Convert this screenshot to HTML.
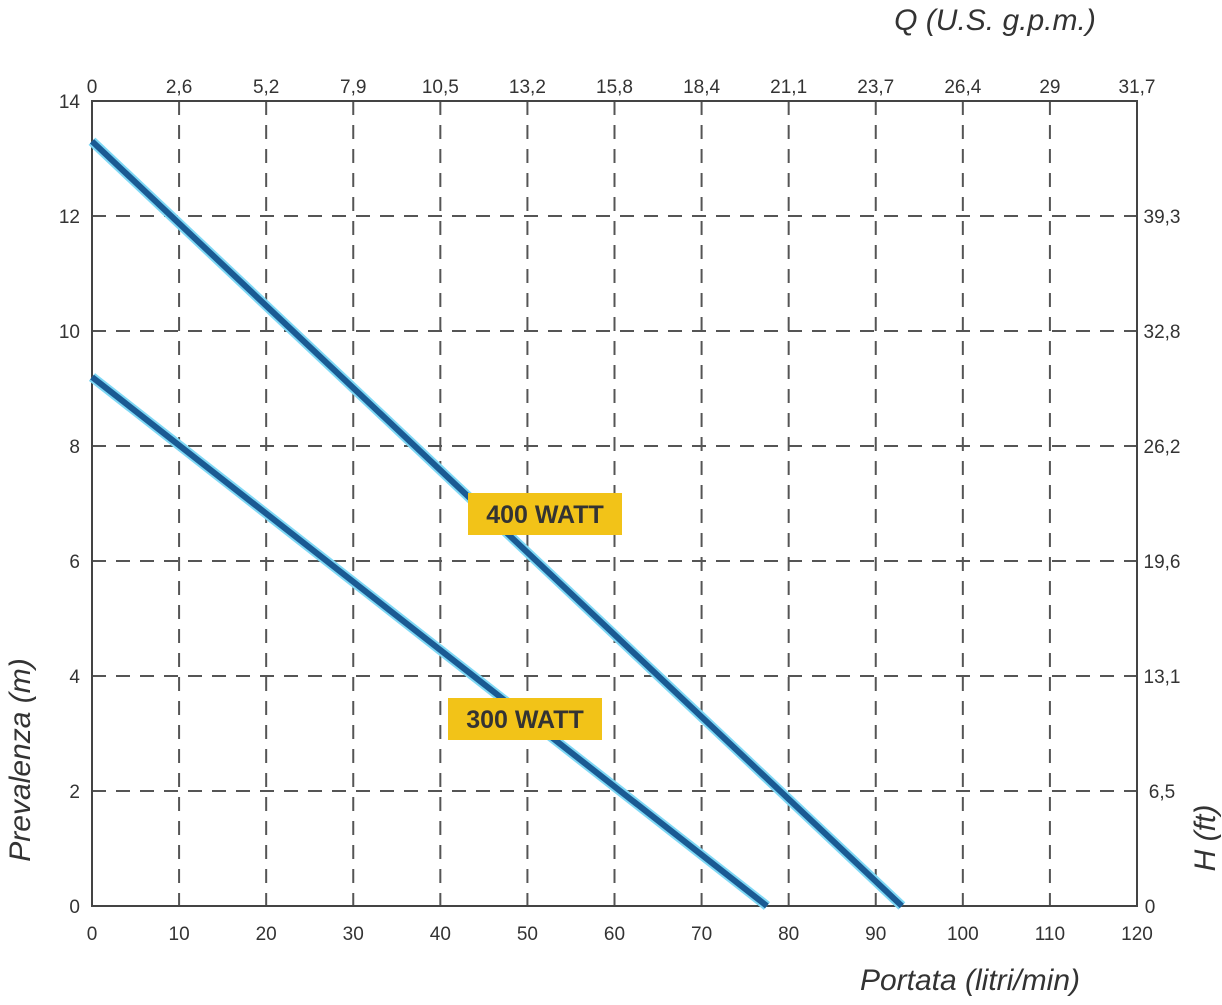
<!DOCTYPE html>
<html><head><meta charset="utf-8"><style>
body{margin:0;background:#fff;}
svg text{font-family:"Liberation Sans",sans-serif;fill:#333;}
</style></head><body>
<svg id="chart" width="1222" height="1000" xmlns="http://www.w3.org/2000/svg"></svg>
<script>
const xTicks=[0,10,20,30,40,50,60,70,80,90,100,110,120];
const yTicks=[0,2,4,6,8,10,12,14];
const gpmLabels=["0","2,6","5,2","7,9","10,5","13,2","15,8","18,4","21,1","23,7","26,4","29","31,7"];
const ftLabels=["0","6,5","13,1","19,6","26,2","32,8","39,3"];
const series400=[[0,13.3],[93,0]];
const series300=[[0,9.2],[77.5,0]];
const L=92,R=1137,T=101,B=906;
const sx=v=>L+(R-L)*v/120, sy=v=>B-(B-T)*v/14;
const svg=document.getElementById('chart');
const NS="http://www.w3.org/2000/svg";
function mk(tag,attrs,parent){const e=document.createElementNS(NS,tag);for(const k in attrs)e.setAttribute(k,attrs[k]);(parent||svg).appendChild(e);return e;}
function txt(s,x,y,size,anchor,extra){const t=mk('text',Object.assign({x:x,y:y,'font-size':size,'text-anchor':anchor||'middle'},extra||{}));t.textContent=s;return t;}
// grid
xTicks.forEach((v,i)=>{if(i>0&&i<xTicks.length-1){const g=mk('line',{x1:sx(v),x2:sx(v),y1:T,y2:B,stroke:'#555','stroke-width':2,'stroke-dasharray':'14,10'});

}});
yTicks.forEach((v,i)=>{if(i>0&&i<yTicks.length-1){const g=mk('line',{x1:L,x2:R,y1:sy(v),y2:sy(v),stroke:'#555','stroke-width':2,'stroke-dasharray':'14,10'});

}});
const frame=mk('rect',{x:L,y:T,width:R-L,height:B-T,fill:'none',stroke:'#444','stroke-width':2});


// ticks labels
xTicks.forEach((v,i)=>{const t=txt(String(v),sx(v),940,19);


const g=txt(gpmLabels[i],sx(v),93,19);

});
yTicks.forEach(v=>{const t=txt(String(v),80,sy(v)+7,19,'end');

});
ftLabels.forEach((s,i)=>{if(i===0)return;const v=2*i;const t=txt(s,1162,sy(v)+7,19);

});
const r0=txt("0",1150,913,19);


// series
function drawLine(s,name){const d=s.map((p,i)=>(i?'L':'M')+sx(p[0])+','+sy(p[1])).join(' ');
mk('path',{d:d,stroke:'#7fd8f5','stroke-width':10,fill:'none'});
const p=mk('path',{d:d,stroke:'#1a5a93','stroke-width':6,fill:'none'});

}
drawLine(series400,'line-400-watt');
drawLine(series300,'line-300-watt');
// labels
function badge(s,x,y,w,h,name){const g=mk('g',{});


mk('rect',{x:x,y:y,width:w,height:h,fill:'#f2c318'},g);
const t=mk('text',{x:x+w/2,y:y+h/2+9,'font-size':25,'font-weight':'bold','text-anchor':'middle',fill:'#2a2212'},g);t.textContent=s;}
badge('400 WATT',468,493,154,42,'label-400-watt');
badge('300 WATT',448,698,154,42,'label-300-watt');
// titles
const tq=txt('Q (U.S. g.p.m.)',995,30,30,'middle',{'font-style':'italic'});


const tp=txt('Portata (litri/min)',970,990,30,'middle',{'font-style':'italic'});


const ty=txt('Prevalenza (m)',0,0,30,'middle',{'font-style':'italic',transform:'translate(30,760) rotate(-90)'});


const th=txt('H (ft)',0,0,30,'middle',{'font-style':'italic',transform:'translate(1215,838) rotate(-90)'});


</script>
</body></html>
